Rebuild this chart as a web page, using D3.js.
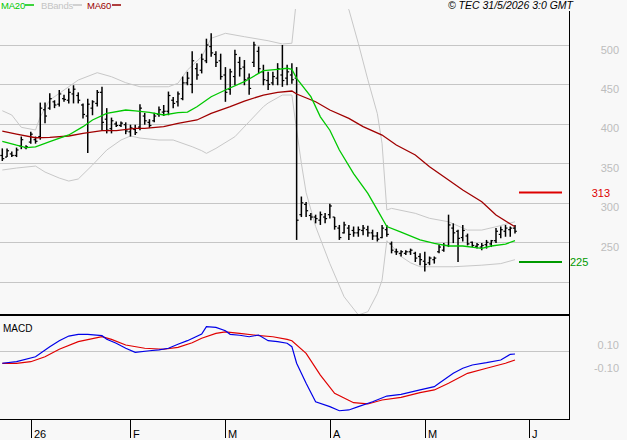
<!DOCTYPE html>
<html><head><meta charset="utf-8">
<script src="https://cdn.jsdelivr.net/npm/d3@7/dist/d3.min.js"></script>
<style>
body{margin:0;background:#f8f8f8;}
svg{display:block;font-family:"Liberation Sans",Arial,sans-serif;}
</style>
</head><body>
<svg id="chart" width="627" height="440"></svg>
<script>
// ---------- DATA ----------
const barHigh = [369,369,365,370,384,373,390,384,427,427,439,430,443,437,445,449,440,426,432,430,
  443,447,420,408,403,403,402,399,399,425,414,406,414,422,424,441,434,441,460,466,
  492,477,489,508,515,492,489,472,470,494,485,481,464,504,498,475,466,466,477,500,
  475,477,472,308,301,287,285,289,287,299,282,272,276,272,270,270,272,271,266,263,
  272,272,251,242,240,240,242,238,236,238,232,232,247,249,285,274,266,272,261,251,
  249,249,253,253,268,270,272,270,272];
const barLow = [353,358,358,358,368,368,375,375,380,401,418,420,422,428,426,426,426,407,363,411,
  422,392,388,388,396,396,387,384,386,392,399,395,402,409,410,411,420,422,430,449,
  439,456,464,477,485,472,456,428,437,449,460,449,437,472,464,449,443,449,449,447,
  449,451,253,282,282,278,274,272,274,280,266,253,261,253,257,257,259,257,253,251,
  255,257,236,234,232,234,234,225,221,213,221,223,236,238,244,249,225,251,246,244,
  242,240,242,244,249,255,257,257,261];
const barOpen = [360,358,362,360,372,370,377,380,384,418,420,428,425,432,430,438,436,424,410,420,
  426,440,406,394,400,398,399,390,393,396,410,402,404,412,415,416,430,428,432,452,
  450,470,468,480,498,488,480,462,444,460,478,472,458,478,492,466,455,452,458,462,
  458,462,458,285,298,284,282,278,282,285,282,268,262,268,265,262,265,266,262,258,
  256,266,248,238,236,236,238,236,232,226,224,228,238,240,246,268,264,256,258,250,
  245,244,247,248,252,260,264,266,268];
const barClose = [356,366,360,367,380,371,387,378,420,410,432,424,438,431,440,444,430,412,425,428,
  440,402,392,404,398,401,391,395,389,420,404,398,410,418,416,436,426,438,452,458,
  480,462,482,500,490,478,460,440,466,488,470,456,445,500,470,456,450,460,470,455,
  466,456,278,300,290,282,280,285,280,296,270,256,272,260,262,266,268,262,258,254,
  268,260,240,238,238,238,240,230,228,222,230,230,244,246,272,262,255,265,248,246,
  247,246,250,252,264,266,268,268,264];

const ma20Idx = [0,3,5,7,10,14,17,19,22,26,28,31,34,37,39,41,44,47,51,54,55,58,60,61,62,65,67,69,71,74,77,79,81,84,88,91,94,97,101,103,106,108];
const ma20Val = [378,373,370,371,377.5,386,396.5,405,413.4,417.6,416.4,414.7,411.3,414.2,415,421.8,434.5,443,453.5,464,467.4,469.2,470.5,469.2,457.8,434.5,409,392,367,337,312,291,270,263,253,248.7,245.3,245.3,242.3,245.3,247.8,252];

const ma60Idx = [0,3,7,10,14,17,21,24,28,30,34,37,41,44,48,51,55,58,61,62,66,69,73,76,80,83,87,90,94,97,101,104,108];
const ma60Val = [391,387.2,382.5,383,384.7,388,391.4,391.4,394.4,394.4,396.5,400.8,405,413.4,421.8,429,436.6,440,441.7,437.9,428.1,417.6,407.1,396.5,385.9,373.3,360.6,345.8,328.9,316.2,301.4,284.5,269.7];

const bbUpIdx = [0,2,4,7,8,10,14,16,20,23,26,29,35,37,39,42,44,47,51,56,59,61,62,64,67,70,73,75,77,79,80,81,82,87,90,94,98,101,104,108];
const bbUpVal = [416.7,411.3,395.7,392.3,409.1,430.3,447.1,455.6,464.9,459.8,452.2,447.1,447.1,451.5,468.3,485.2,508.5,514.8,510.5,505.4,501.3,502.2,560,568,572,562,545,502,456,413,375,291,293,286.7,280.4,276,265.5,265.5,269.7,276];

const bbLoIdx = [0,3,7,9,12,14,16,19,22,25,27,29,33,36,40,42,43,45,49,52,55,56,59,61,62,63,64,66,69,72,75,77,79,80,81,82,84,86,88,95,101,105,108];
const bbLoVal = [341.6,344.1,346.6,339,331.4,327.6,330.2,347.9,366.9,379.6,384.7,382.1,379.6,379.6,371.1,366.1,362.7,369,383.8,402.8,421.8,426.5,436.6,436.6,392,350,313,270,223,181,158,162,185,202,252,246,232,224,219,219,221,223,228];

const macdIdx = [0,3,7,10,12,14,16,18,21,22,24,26,28,31,33,35,37,39,42,43,45,47,48,50,52,54,56,58,60,61,62,64,66,69,71,73,75,78,81,84,88,91,92,95,97,99,102,105,107,108];
const macdVal = [-0.106,-0.092,-0.048,0.041,0.094,0.135,0.150,0.150,0.138,0.106,0.071,0.027,-0.009,0.005,0.012,0.027,0.062,0.094,0.153,0.218,0.212,0.182,0.150,0.142,0.129,0.144,0.094,0.085,0.071,0.041,-0.106,-0.283,-0.446,-0.490,-0.526,-0.519,-0.490,-0.446,-0.396,-0.381,-0.342,-0.313,-0.283,-0.195,-0.150,-0.121,-0.101,-0.077,-0.027,-0.024];

const signalIdx = [0,3,6,9,12,16,21,23,26,30,34,37,40,42,45,47,50,53,57,60,61,64,67,70,74,77,80,84,88,91,94,98,102,106,108];
const signalVal = [-0.106,-0.106,-0.092,-0.048,0.018,0.085,0.129,0.106,0.056,0.027,0.018,0.035,0.076,0.115,0.159,0.171,0.159,0.144,0.129,0.106,0.094,-0.018,-0.210,-0.372,-0.455,-0.466,-0.431,-0.407,-0.366,-0.342,-0.283,-0.195,-0.150,-0.106,-0.077];

const priceGrid = [200,250,300,350,400,450,500];
const priceTicks = [250,300,350,400,450,500];
const macdTicks = [0.10,-0.10];
const macdTickLabels = ["0.10","-0.10"];
const dateTickIdx = [6,27,47,69,89,111];
const dateTickLabels = ["26","F","M","A","M","J"];
const levelVals = [313,225];

// ---------- LAYOUT ----------
const W = 627, Hh = 440;
const PR = 569;           // right edge of panels
const mainTop = 9, mainBot = 314;
const macdTop = 316, macdBot = 419;

const svg = d3.select("#chart");
svg.append("rect").attr("width",W).attr("height",Hh).attr("fill","#f8f8f8");

const x = d3.scaleLinear().domain([0,108]).range([2.3,515]);
const y = d3.scaleLinear().domain([250,500]).range([242.3,45]);
const ym = d3.scaleLinear().domain([0,0.1]).range([351.3,340]);

const defs = svg.append("defs");
defs.append("clipPath").attr("id","clipMain").append("rect")
  .attr("x",0).attr("y",mainTop).attr("width",PR).attr("height",mainBot-mainTop);
defs.append("clipPath").attr("id","clipMacd").append("rect")
  .attr("x",0).attr("y",macdTop).attr("width",PR).attr("height",macdBot-macdTop);

const GRID = "#c6c6c6";

// gridlines main
svg.append("g").selectAll("line").data(priceGrid).join("line")
  .attr("x1",0).attr("x2",PR)
  .attr("y1",d=>Math.round(y(d))+0.5).attr("y2",d=>Math.round(y(d))+0.5)
  .attr("stroke",GRID).attr("stroke-width",1);

// price axis labels
const yAxis = d3.axisRight(y).tickValues(priceTicks).tickSize(0).tickFormat(d3.format("d"));
const ya = svg.append("g").attr("transform",`translate(${PR},0)`).call(yAxis);
ya.select(".domain").remove();
ya.selectAll("text").attr("x",50).attr("dy",8).attr("text-anchor","end")
  .attr("fill","#bdbdbd").style("font-size","11px").style("font-family","'Liberation Sans',Arial,sans-serif");

const gMain = svg.append("g").attr("clip-path","url(#clipMain)");

const lineGen = (idxArr, scale) => d3.line().x((d,i)=>x(idxArr[i])).y(d=>scale(d));

// Bollinger bands
gMain.append("path").datum(bbUpVal).attr("d",lineGen(bbUpIdx,y))
  .attr("fill","none").attr("stroke","#c8c8c8").attr("stroke-width",1);
gMain.append("path").datum(bbLoVal).attr("d",lineGen(bbLoIdx,y))
  .attr("fill","none").attr("stroke","#c8c8c8").attr("stroke-width",1);

// bars
const bars = gMain.append("g").attr("stroke","#000");
barHigh.forEach((h,i)=>{
  const cx = x(i);
  bars.append("line").attr("x1",cx).attr("x2",cx).attr("y1",y(h)).attr("y2",y(barLow[i])).attr("stroke-width",1.5);
  bars.append("line").attr("x1",cx-2).attr("x2",cx).attr("y1",y(barOpen[i])).attr("y2",y(barOpen[i])).attr("stroke-width",1.2);
  bars.append("line").attr("x1",cx).attr("x2",cx+2).attr("y1",y(barClose[i])).attr("y2",y(barClose[i])).attr("stroke-width",1.2);
});

// MAs
gMain.append("path").datum(ma60Val).attr("d",lineGen(ma60Idx,y))
  .attr("fill","none").attr("stroke","#a00000").attr("stroke-width",1.3);
gMain.append("path").datum(ma20Val).attr("d",lineGen(ma20Idx,y))
  .attr("fill","none").attr("stroke","#00c800").attr("stroke-width",1.3);

// level markers
const levelColors = ["#dd0000","#009a00"];
svg.append("g").selectAll("line").data(levelVals).join("line")
  .attr("x1",519).attr("x2",562)
  .attr("y1",d=>y(d)).attr("y2",d=>y(d))
  .attr("stroke",(d,i)=>levelColors[i]).attr("stroke-width",2);
svg.append("g").selectAll("text").data(levelVals).join("text")
  .attr("x",(d,i)=> i===0 ? 610 : 570)
  .attr("text-anchor",(d,i)=> i===0 ? "end" : "start")
  .attr("y",d=>y(d)+4)
  .attr("fill",(d,i)=>levelColors[i])
  .style("font-size","11px")
  .text(d=>d);

// MACD panel
svg.append("line").attr("x1",0).attr("x2",PR).attr("y1",Math.round(ym(0))+0.5).attr("y2",Math.round(ym(0))+0.5)
  .attr("stroke",GRID).attr("stroke-width",1);
const mAxis = d3.axisRight(ym).tickValues(macdTicks).tickSize(0).tickFormat((d,i)=>macdTickLabels[i]);
const ma = svg.append("g").attr("transform",`translate(${PR},0)`).call(mAxis);
ma.select(".domain").remove();
ma.selectAll("text").attr("x",50).attr("dy",8.5).attr("text-anchor","end")
  .attr("fill","#bdbdbd").style("font-size","11px").style("font-family","'Liberation Sans',Arial,sans-serif");

const gMacd = svg.append("g").attr("clip-path","url(#clipMacd)");
gMacd.append("path").datum(signalVal).attr("d",lineGen(signalIdx,ym))
  .attr("fill","none").attr("stroke","#e00000").attr("stroke-width",1.2);
gMacd.append("path").datum(macdVal).attr("d",lineGen(macdIdx,ym))
  .attr("fill","none").attr("stroke","#0000e8").attr("stroke-width",1.2);

svg.append("text").attr("x",3).attr("y",332).style("font-size","10px").attr("fill","#000").text("MACD");

// borders
svg.append("rect").attr("x",0).attr("y",mainBot).attr("width",PR+1).attr("height",2).attr("fill","#000");
svg.append("rect").attr("x",PR).attr("y",mainTop+2).attr("width",1).attr("height",macdBot-mainTop-2).attr("fill","#000");
svg.append("rect").attr("x",0).attr("y",macdBot).attr("width",PR+1).attr("height",1).attr("fill","#000");

// date axis
const xAxis = d3.axisBottom(x).tickValues(dateTickIdx).tickSize(18).tickFormat((d,i)=>dateTickLabels[i]);
const xa = svg.append("g").attr("transform",`translate(0,${macdBot+1})`).call(xAxis);
xa.select(".domain").remove();
xa.selectAll(".tick line").attr("stroke","#000");
xa.selectAll(".tick").attr("transform",d=>`translate(${Math.round(x(d))+0.5},0)`);
xa.selectAll("text").attr("x",2.5).attr("y",18).attr("dy",0).attr("text-anchor","start")
  .attr("fill","#000").style("font-size","11px").style("font-family","'Liberation Sans',Arial,sans-serif");

// legend
const legend = [
  {t:"MA20", c:"#00c800", x:1, lx:25},
  {t:"BBands", c:"#c4c4c4", x:41, lx:73},
  {t:"MA60", c:"#990000", x:87, lx:112}
];
legend.forEach(l=>{
  svg.append("text").attr("x",l.x).attr("y",9).attr("fill",l.c)
    .style("font-size","9.5px").style("letter-spacing","-0.2px").text(l.t);
  svg.append("line").attr("x1",l.lx).attr("x2",l.lx+9).attr("y1",5).attr("y2",5)
    .attr("stroke",l.c).attr("stroke-width",1.5);
});

svg.append("text").attr("x",573).attr("y",9).attr("text-anchor","end")
  .style("font-size","10.5px").style("font-style","italic").attr("fill","#000")
  .text("© TEC 31/5/2026 3:0 GMT");
</script>
</body></html>
